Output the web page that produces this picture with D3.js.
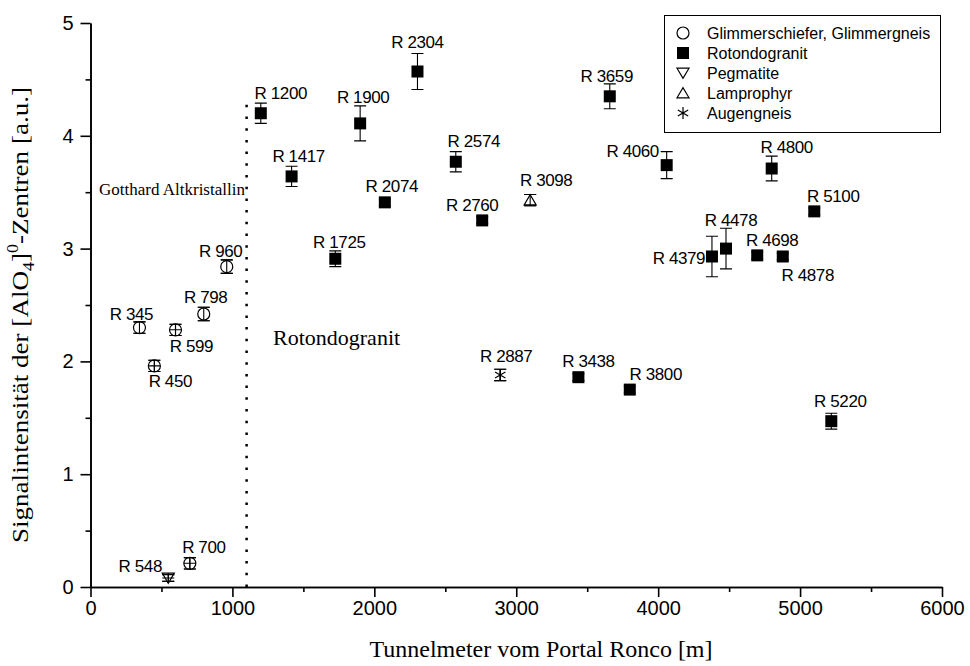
<!DOCTYPE html>
<html>
<head>
<meta charset="utf-8">
<script src="https://cdn.jsdelivr.net/npm/d3@7"></script>
<style>
  html, body { margin: 0; padding: 0; background: #fff; }
  svg { display: block; }
</style>
</head>
<body>
<svg id="chart" width="970" height="666"></svg>
<script>
// Sample series: tunnel metre from Portal Ronco, signal intensity, error (±)
const glimmer = [
  { name: "R 345", x: 345, y: 2.30, err: 0.05 },
  { name: "R 450", x: 450, y: 1.96, err: 0.05 },
  { name: "R 599", x: 599, y: 2.28, err: 0.05 },
  { name: "R 700", x: 700, y: 0.21, err: 0.05 },
  { name: "R 798", x: 798, y: 2.42, err: 0.06 },
  { name: "R 960", x: 960, y: 2.84, err: 0.06 }
];
const rotondo = [
  { name: "R 1200", x: 1200, y: 4.20, err: 0.09 },
  { name: "R 1417", x: 1417, y: 3.64, err: 0.09 },
  { name: "R 1725", x: 1725, y: 2.91, err: 0.07 },
  { name: "R 1900", x: 1900, y: 4.11, err: 0.155 },
  { name: "R 2074", x: 2074, y: 3.41, err: 0.03 },
  { name: "R 2304", x: 2304, y: 4.57, err: 0.16 },
  { name: "R 2574", x: 2574, y: 3.77, err: 0.09 },
  { name: "R 2760", x: 2760, y: 3.25, err: 0.03 },
  { name: "R 3438", x: 3438, y: 1.86, err: 0.03 },
  { name: "R 3659", x: 3659, y: 4.35, err: 0.11 },
  { name: "R 3800", x: 3800, y: 1.75, err: 0.03 },
  { name: "R 4060", x: 4060, y: 3.74, err: 0.12 },
  { name: "R 4379", x: 4379, y: 2.93, err: 0.18 },
  { name: "R 4478", x: 4478, y: 3.00, err: 0.18 },
  { name: "R 4698", x: 4698, y: 2.94, err: 0.03 },
  { name: "R 4800", x: 4800, y: 3.71, err: 0.11 },
  { name: "R 4878", x: 4878, y: 2.93, err: 0.03 },
  { name: "R 5100", x: 5100, y: 3.33, err: 0.03 },
  { name: "R 5220", x: 5220, y: 1.47, err: 0.07 }
];
const pegmatite = [ { name: "R 548", x: 548, y: 0.08, err: 0.03 } ];
const lamprophyr = [ { name: "R 3098", x: 3098, y: 3.43, err: 0.05 } ];
const augengneis = [ { name: "R 2887", x: 2887, y: 1.88, err: 0.05 } ];

// Samples drawn with a crossed interior
const crossedSamples = ["R 450", "R 599", "R 700"];

// Boundary between Gotthard Altkristallin and Rotondogranit
const boundary = { x: 1100, yTop: 4.35 };

const seriesNames = ["Glimmerschiefer, Glimmergneis", "Rotondogranit", "Pegmatite", "Lamprophyr", "Augengneis"];
const xTicks = [0, 1000, 2000, 3000, 4000, 5000, 6000];
const yTicks = [0, 1, 2, 3, 4, 5];

// Label placement relative to the marker (centre x, baseline y), in px
const labelOffset = {
  "R 345": [-8, -8], "R 450": [16, 21], "R 599": [16, 22], "R 700": [14, -10],
  "R 798": [2, -11], "R 960": [-6, -10], "R 548": [-28, -6],
  "R 1200": [20, -14], "R 1417": [7, -14], "R 1725": [4, -11], "R 1900": [3, -20],
  "R 2074": [7, -10], "R 2304": [0, -24], "R 2574": [18, -15], "R 2760": [-10, -9],
  "R 3098": [16, -14], "R 2887": [6, -13], "R 3438": [10, -10], "R 3800": [26, -10],
  "R 3659": [-3, -14], "R 4060": [-34, -8], "R 4800": [15, -16], "R 5100": [19, -9],
  "R 4478": [5, -23], "R 4379": [-33, 8], "R 4698": [15, -9], "R 4878": [25, 25],
  "R 5220": [9, -14]
};

const svg = d3.select("#chart");
const plot = { left: 90.5, right: 942, top: 23, bottom: 587 };

const x = d3.scaleLinear().domain([0, 6000]).range([plot.left, plot.right]);
const y = d3.scaleLinear().domain([0, 5]).range([plot.bottom, plot.top]);

const tickFont = "'Liberation Sans', Arial, sans-serif";
const serif = "'Liberation Serif', 'Times New Roman', serif";

// Axes: major ticks with labels, minor ticks in between
const xAxis = d3.axisBottom(x).tickValues(xTicks).tickFormat(d3.format("d")).tickSize(10).tickSizeOuter(0).tickPadding(4);
const xMinor = d3.axisBottom(x).tickValues(d3.range(500, 6000, 1000)).tickFormat("").tickSize(5).tickSizeOuter(0);
const yAxis = d3.axisLeft(y).tickValues(yTicks).tickFormat(d3.format("d")).tickSize(10).tickSizeOuter(0).tickPadding(7);
const yMinor = d3.axisLeft(y).tickValues(d3.range(0.5, 5, 1)).tickFormat("").tickSize(5).tickSizeOuter(0);

function styleAxis(g) {
  g.selectAll("path.domain").attr("stroke", "#000").attr("stroke-width", 1.6);
  g.selectAll(".tick line").attr("stroke", "#000").attr("stroke-width", 1.6);
  g.selectAll(".tick text").attr("fill", "#000").attr("font-family", tickFont).attr("font-size", 20);
}

svg.append("g").attr("transform", `translate(0,${plot.bottom})`).call(xMinor).call(styleAxis);
svg.append("g").attr("transform", `translate(0,${plot.bottom})`).call(xAxis).call(styleAxis);
svg.append("g").attr("transform", `translate(${plot.left},0)`).call(yMinor).call(styleAxis);
svg.append("g").attr("transform", `translate(${plot.left},0)`).call(yAxis).call(styleAxis);

// Axis titles
svg.append("text")
  .attr("x", 541).attr("y", 657)
  .attr("text-anchor", "middle")
  .attr("font-family", serif).attr("font-size", 24)
  .text("Tunnelmeter vom Portal Ronco [m]");

const yTitle = svg.append("text")
  .attr("transform", `translate(28,315) rotate(-90)`)
  .attr("text-anchor", "middle")
  .attr("font-family", serif).attr("font-size", 24)
  .attr("textLength", 456).attr("lengthAdjust", "spacingAndGlyphs");
yTitle.append("tspan").text("Signalintensität der [AlO");
yTitle.append("tspan").attr("font-size", 16).attr("dy", 6).text("4");
yTitle.append("tspan").attr("dy", -6).text("]");
yTitle.append("tspan").attr("font-size", 16).attr("dy", -10).text("0");
yTitle.append("tspan").attr("dy", 10).text("-Zentren [a.u.]");

// Region boundary and annotations
svg.append("line")
  .attr("x1", x(boundary.x)).attr("x2", x(boundary.x))
  .attr("y1", y(0)).attr("y2", y(boundary.yTop))
  .attr("stroke", "#000").attr("stroke-width", 2.5)
  .attr("stroke-dasharray", "2.5,9.2");

svg.append("text").attr("x", 99).attr("y", 195)
  .attr("font-family", serif).attr("font-size", 17)
  .text("Gotthard Altkristallin");
svg.append("text").attr("x", 273).attr("y", 345)
  .attr("font-family", serif).attr("font-size", 22)
  .text("Rotondogranit");

// Marker drawing helpers
const S = 6; // marker half size
function drawMarker(g, kind, cx, cy) {
  if (kind === "circle") {
    g.append("circle").attr("cx", cx).attr("cy", cy).attr("r", S)
      .attr("fill", "#fff").attr("stroke", "#000").attr("stroke-width", 1.2);
  } else if (kind === "square") {
    g.append("rect").attr("x", cx - S).attr("y", cy - S).attr("width", 2 * S).attr("height", 2 * S)
      .attr("fill", "#000");
  } else if (kind === "down") {
    g.append("path").attr("d", `M${cx - S},${cy - S * 0.8}L${cx + S},${cy - S * 0.8}L${cx},${cy + S * 0.9}Z`)
      .attr("fill", "#fff").attr("stroke", "#000").attr("stroke-width", 1.2);
  } else if (kind === "up") {
    g.append("path").attr("d", `M${cx - S},${cy + S * 0.8}L${cx + S},${cy + S * 0.8}L${cx},${cy - S * 0.9}Z`)
      .attr("fill", "#fff").attr("stroke", "#000").attr("stroke-width", 1.2);
  } else if (kind === "star") {
    const r = S;
    const d = [0, 60, 120].map(a => {
      const t = a * Math.PI / 180 + Math.PI / 2;
      return `M${cx - r * Math.cos(t)},${cy - r * Math.sin(t)}L${cx + r * Math.cos(t)},${cy + r * Math.sin(t)}`;
    }).join("");
    g.append("path").attr("d", d).attr("stroke", "#000").attr("stroke-width", 1.2).attr("fill", "none");
  }
}

function drawErr(g, d) {
  const cx = x(d.x), y1 = y(d.y + d.err), y2 = y(d.y - d.err);
  const cap = 6;
  const path = `M${cx},${y1}L${cx},${y2}M${cx - cap},${y1}L${cx + cap},${y1}M${cx - cap},${y2}L${cx + cap},${y2}`;
  g.append("path").attr("d", path).attr("stroke", "#000").attr("stroke-width", 1.1).attr("fill", "none");
}

const groups = [
  { data: glimmer, kind: "circle" },
  { data: rotondo, kind: "square" },
  { data: pegmatite, kind: "down" },
  { data: lamprophyr, kind: "up" },
  { data: augengneis, kind: "star" }
];

const marks = svg.append("g");
groups.forEach(grp => {
  grp.data.forEach(d => {
    const g = marks.append("g");
    const cx = x(d.x), cy = y(d.y);
    drawErr(g, d);
    drawMarker(g, grp.kind, cx, cy);
    if (grp.kind !== "square") drawErr(g, d);
    if (crossedSamples.includes(d.name) || grp.kind === "down") {
      const h = grp.kind === "down" ? S * 0.85 : S;
      g.append("path")
        .attr("d", `M${cx},${cy - h}L${cx},${cy + h}M${cx - S},${cy}L${cx + S},${cy}`)
        .attr("stroke", "#000").attr("stroke-width", 1.1);
    }
    const off = labelOffset[d.name] || [0, -12];
    g.append("text")
      .attr("x", cx + off[0]).attr("y", cy + off[1])
      .attr("text-anchor", "middle")
      .attr("font-family", tickFont).attr("font-size", 17)
      .attr("letter-spacing", -0.4)
      .text(d.name);
  });
});

// Legend
const legend = svg.append("g");
legend.append("rect").attr("x", 664.5).attr("y", 15.5).attr("width", 276).attr("height", 117)
  .attr("fill", "#fff").attr("stroke", "#000").attr("stroke-width", 1);
const legendKinds = ["circle", "square", "down", "up", "star"];
seriesNames.forEach((name, i) => {
  const cy = 33 + i * 20;
  drawMarker(legend, legendKinds[i], 683, cy);
  legend.append("text").attr("x", 707).attr("y", cy + 5.5)
    .attr("font-family", tickFont).attr("font-size", 16)
    .text(name);
});
</script>
</body>
</html>
